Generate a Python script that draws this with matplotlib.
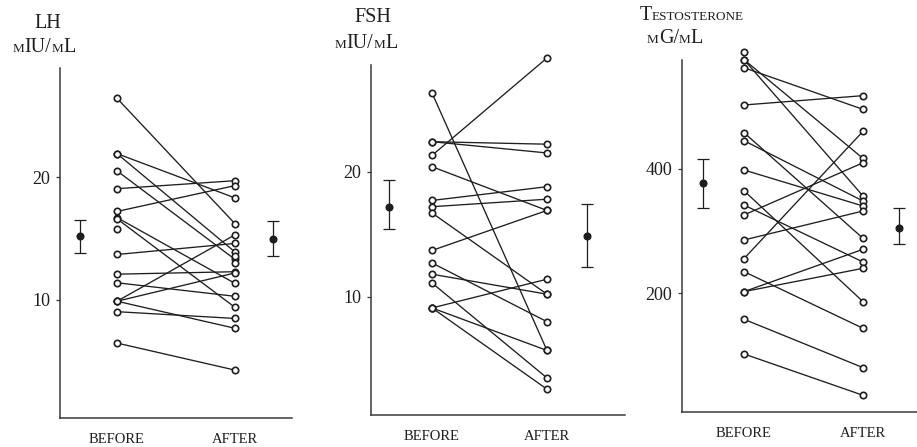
import matplotlib
matplotlib.use("Agg")
import matplotlib.pyplot as plt
import numpy as np

nan = np.nan

# ---- data -----------------------------------------------------------------
# LH (mIU/mL), one entry per subject; nan where only one value is printed
lh_before = [26.4, 21.9, 21.9, 20.5, 19.05, 17.2, 16.7, 16.6, 15.8, 13.7,
             12.1, 11.4, 9.9, 9.9, 9.9, 9.05, 6.5, nan, nan]
lh_after = [16.2, 18.3, 13.9, 13.3, 19.7, 19.3, 11.35, 9.4, nan, 14.6,
            12.3, 10.3, 15.3, 12.2, 7.7, 8.5, 4.3, 13.6, 13.0]
lh_mean = [15.2, 15.0]
lh_low = [13.8, 13.6]
lh_high = [16.5, 16.4]

# FSH (mIU/mL)
fsh_before = [26.3, 22.4, 22.4, 21.3, 20.4, 17.7, 17.2, 16.7, 13.7, 12.7,
              11.8, 11.1, 9.1, 9.1, 9.1]
fsh_after = [5.7, 22.2, 21.5, 29.1, 16.9, 18.8, 17.8, 10.2, 16.9, 8.0,
             10.2, 3.5, 11.4, 5.7, 2.6]
fsh_mean = [17.2, 14.85]
fsh_low = [15.4, 12.35]
fsh_high = [19.3, 17.4]

# Testosterone (ng/mL)
testo_before = [588.7, 576, 576, 563, 503, 458.5, 445.6, 398.4, 365, 342,
                326, 285.8, 255.8, 234.9, 202.7, 202.7, 158.2, 102.4]
testo_after = [nan, 417, 356.6, 496, 518, 288.5, 348.5, 340.5, 186.6, 250.4,
               410, 332.4, 460.6, 143.7, 270.8, 240.2, 80.4, 35.9]
testo_mean = [377, 305]
testo_low = [338, 280]
testo_high = [416, 338]

lh_ticks = [10, 20]
fsh_ticks = [10, 20]
testo_ticks = [200, 400]
period_labels = ["BEFORE", "AFTER"]

# ---- style ----------------------------------------------------------------
W, H = 917, 447
SERIF = ["Liberation Serif", "DejaVu Serif"]
INK = "#1e1e1e"
BIG, SMALL = 14.5, 9.5

plt.rcParams["font.family"] = SERIF
fig = plt.figure(figsize=(W / 100, H / 100), dpi=100)
renderer = fig.canvas.get_renderer()


def px_axes(box):
    """Axes whose spines sit on the pixel box (left, top, right, bottom)."""
    l, t, r, b = box
    return fig.add_axes([l / W, 1 - b / H, (r - l) / W, (b - t) / H])


def mixed_text(cx, baseline, parts):
    """Centre a run of text pieces of differing sizes on one baseline (pixels)."""
    items = []
    for s, size in parts:
        t = fig.text(0, 0, s, fontsize=size, color=INK, ha="left",
                     va="baseline", family=SERIF)
        items.append((t, t.get_window_extent(renderer).width))
    x = cx - sum(w for _, w in items) / 2
    for t, w in items:
        t.set_position((x / W, 1 - baseline / H))
        x += w


def panel(box, x_px, cal, err_px, before, after, mean, low, high, ticks):
    ax = px_axes(box)
    l, t, r, b = box
    (v0, y0), (v1, y1) = cal
    per_px = (v1 - v0) / (y0 - y1)
    ax.set_ylim(v0 - (b - y0) * per_px, v1 + (y1 - t) * per_px)
    xb, xa = x_px
    unit = xa - xb
    ax.set_xlim((l - xb) / unit, (r - xb) / unit)
    ex = [(e - xb) / unit for e in err_px]

    before = np.asarray(before, float)
    after = np.asarray(after, float)
    for yb, ya in zip(before, after):
        if np.isfinite(yb) and np.isfinite(ya):
            ax.plot([0, 1], [yb, ya], color=INK, lw=0.95, zorder=2,
                    clip_on=False, solid_capstyle="butt")
    for xpos, vals in ((0, before), (1, after)):
        v = vals[np.isfinite(vals)]
        ax.plot(np.full(v.size, xpos), v, ls="none", marker="o", ms=4.6,
                mfc="white", mec=INK, mew=1.2, zorder=3, clip_on=False)

    mean = np.asarray(mean, float)
    yerr = [mean - np.asarray(low), np.asarray(high) - mean]
    ax.errorbar(ex, mean, yerr=yerr, fmt="o", ms=4.8, color=INK, ecolor=INK,
                elinewidth=0.9, capsize=4.5, capthick=0.9, zorder=3,
                clip_on=False)

    for side in ("top", "right"):
        ax.spines[side].set_visible(False)
    for side in ("left", "bottom"):
        ax.spines[side].set_linewidth(1.1)
        ax.spines[side].set_color("#3a3a3a")
    ax.set_yticks(ticks)
    ax.set_yticklabels([str(v) for v in ticks], fontsize=13, color=INK,
                       family=SERIF)
    ax.tick_params(axis="y", direction="out", length=3, width=0.9,
                   color="#3a3a3a", pad=4)
    ax.set_xticks([0, 1])
    ax.set_xticklabels(period_labels, fontsize=10.5, color=INK, family=SERIF)
    ax.tick_params(axis="x", length=0, pad=11)
    ax.patch.set_alpha(0)
    return ax


panel((60, 68, 292, 418), (117, 235), ((10, 300), (20, 177)), (80, 273),
      lh_before, lh_after, lh_mean, lh_low, lh_high, lh_ticks)
panel((371, 65, 625, 415), (432, 547), ((10, 296.7), (20, 171.7)), (389, 587),
      fsh_before, fsh_after, fsh_mean, fsh_low, fsh_high, fsh_ticks)
panel((682, 60, 930, 412), (744, 863), ((200, 293.3), (400, 169)), (703, 899),
      testo_before, testo_after, testo_mean, testo_low, testo_high, testo_ticks)

# panel headings, set in small capitals
mixed_text(48, 28, [("LH", BIG)])
mixed_text(44, 52, [("M", SMALL), ("IU/", BIG), ("M", SMALL), ("L", BIG)])
mixed_text(373, 22, [("FSH", BIG)])
mixed_text(366, 48, [("M", SMALL), ("IU/", BIG), ("M", SMALL), ("L", BIG)])
mixed_text(692, 20, [("T", BIG), ("ESTOSTERONE", SMALL)])
mixed_text(675, 43, [("M", SMALL), ("G/", BIG), ("M", SMALL), ("L", BIG)])

fig.savefig("out.png", dpi=100, facecolor="white")
